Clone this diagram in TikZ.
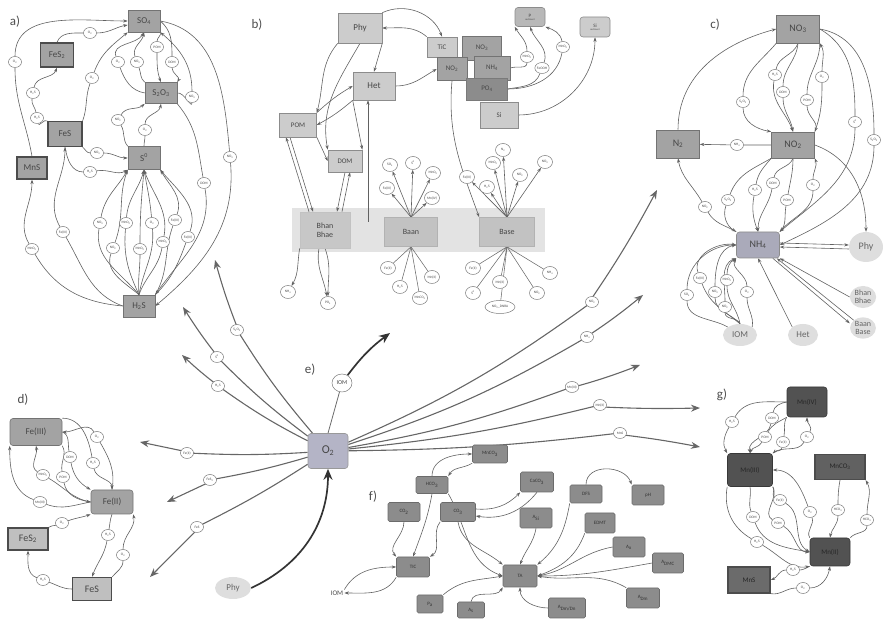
\documentclass[tikz,border=0pt]{standalone}
\usepackage{fontspec}
\setmainfont{Carlito}
\usetikzlibrary{shapes.geometric,arrows.meta}
\newcommand{\lsub}[1]{\textsubscript{#1}}
\newcommand{\lsup}[1]{\textsuperscript{#1}}
\definecolor{oxcol}{RGB}{180,180,198}
\definecolor{nhcol}{RGB}{170,170,186}
\pgfdeclarelayer{bbg}
\pgfdeclarelayer{bg}
\pgfsetlayers{bbg,bg,main}
\begin{document}
\begin{tikzpicture}[x=1pt,y=1pt,
 bx/.style={rectangle, draw=black!45, line width=0.6pt, fill=black!20, inner sep=1pt, text=black!72, font=\fontsize{9}{9}\selectfont, align=center},
 sz/.style 2 args={minimum width=#1pt, minimum height=#2pt},
 dk/.style={fill=black!36, draw=black!55},
 dbl/.style={draw=black!70, line width=1.3pt},
 rnd/.style={rounded corners=3pt},
 sm/.style={ellipse, draw=black!52, fill=white, line width=0.5pt, inner sep=0pt, minimum width=13pt, minimum height=11pt, font=\fontsize{3.5}{3.7}\selectfont, text=black!72},
 smb/.style={sm, minimum width=15pt, minimum height=13pt},
 blob/.style={ellipse, fill=black!13, inner sep=1pt, text=black!60, font=\fontsize{9}{9}\selectfont, align=center},
 ar/.style={-{Stealth[length=4.5pt,width=3.2pt]}, draw=black!62, line width=0.6pt},
 ln/.style={draw=black!58, line width=0.55pt},
 ar2/.style={-{Stealth[length=9pt,width=7pt]}, draw=black!60, line width=1.1pt},
 ar3/.style={-{Stealth[length=11pt,width=9pt]}, draw=black!80, line width=1.7pt},
 lbl/.style={font=\fontsize{13}{13}\selectfont, text=black!70},
 fb/.style={bx, fill=black!45, draw=black!58, font=\fontsize{5}{5}\selectfont, text=black!80, rounded corners=1.5pt},
 gb/.style={bx, fill=black!68, draw=black!78, font=\fontsize{7}{7}\selectfont, text=black!85, rounded corners=3pt}
]
\useasboundingbox (0,0) rectangle (883,620);

%%%%%%%%%%%%%%%% panel a
\node[lbl] at (15,598) {a)};
\node[bx,dk,sz={32}{22}] (SO4) at (144,599) {SO\lsub{4}};
\node[bx,dk,dbl,sz={33}{24}] (FeS2) at (57,565) {FeS\lsub{2}};
\node[bx,dk,sz={32}{21}] (S2O3) at (161,527) {S\lsub{2}O\lsub{3}};
\node[bx,dk,dbl,sz={34}{25}] (FeS) at (65,486) {FeS};
\node[bx,dk,sz={32}{23}] (S0) at (144,462) {S\lsup{0}};
\node[bx,dk,dbl,sz={30}{22}] (MnS) at (32,452) {MnS};
\node[bx,dk,sz={32}{22}] (H2Sa) at (139,314) {H\lsub{2}S};
\node[sm] (a1) at (15,558) {O\lsub{2}};
\node[sm] (a2) at (90,587) {O\lsub{2}};
\node[sm] (a3) at (92,542) {O\lsub{2}};
\node[sm] (a4) at (118,558) {O\lsub{2}};
\node[sm] (a5) at (137,558) {NO\lsub{3}};
\node[sm] (a6) at (157,573) {POM};
\node[sm] (a7) at (172,558) {DOM};
\node[sm] (a8) at (192,523) {NO\lsub{3}};
\node[sm] (a9) at (118,500) {NO\lsub{2}};
\node[sm] (a10) at (145,490) {O\lsub{2}};
\node[sm] (a11) at (33,527) {H\lsub{2}S};
\node[sm] (a12) at (37,502) {H\lsub{2}S};
\node[sm] (a13) at (97,467) {NO\lsub{3}};
\node[sm] (a14) at (230,463) {NO\lsub{3}};
\node[sm] (a15) at (90,448) {H\lsub{2}S};
\node[sm] (a16) at (100,397) {NO\lsub{3}};
\node[sm] (a17) at (126,397) {MnO\lsub{2}};
\node[sm] (a18) at (152,397) {O\lsub{2}};
\node[sm] (a19) at (175,400) {Fe(III)};
\node[sm] (a20) at (113,372) {NO\lsub{2}};
\node[sm] (a21) at (140,371) {MnO\lsub{2}};
\node[sm] (a22) at (163,378) {MnO\lsub{2}};
\node[sm] (a23) at (188,383) {Fe(III)};
\node[sm] (a24) at (32,371) {MnO\lsub{2}};
\node[sm] (a25) at (63,388) {Fe(III)};
\node[sm] (a26) at (204,437) {DOM};

%%%%%%%%%%%%%%%% panel b
\node[lbl] at (257,595) {b)};
\node[bx,sz={44}{30}] (Phy) at (360,592) {Phy};
\node[bx,sz={42}{28}] (Het) at (374,534) {Het};
\node[bx,sz={37}{24},font=\fontsize{7}{7}\selectfont] (POM) at (298,495) {POM};
\node[bx,sz={34}{22},font=\fontsize{7}{7}\selectfont] (DOM) at (345,459) {DOM};
\node[bx,fill=black!22,draw=black!24,sz={50}{36},font=\fontsize{8}{9}\selectfont] (Bhan) at (325,390) {Bhan\\Bhae};
\node[bx,fill=black!24,draw=black!30,sz={53}{29},font=\fontsize{8}{8}\selectfont] (Baan) at (411,388) {Baan};
\node[bx,fill=black!24,draw=black!30,sz={55}{29},font=\fontsize{8}{8}\selectfont] (Base) at (507,388) {Base};
\node[bx,sz={30}{20},font=\fontsize{7}{7}\selectfont] (TiC) at (442,573) {TiC};
\node[bx,dk,sz={39}{24},font=\fontsize{7}{7}\selectfont] (NO3b) at (482,572) {NO\lsub{3}};
\node[bx,dk,sz={30}{23},font=\fontsize{7}{7}\selectfont] (NO2b) at (452,551) {NO\lsub{2}};
\node[bx,dk,sz={36}{24},font=\fontsize{7}{7}\selectfont] (NH4b) at (492,552) {NH\lsub{4}};
\node[bx,fill=black!45,draw=black!52,sz={41}{22},font=\fontsize{7}{7}\selectfont] (PO4b) at (487,531) {PO\lsub{4}};
\node[bx,sz={38}{26},font=\fontsize{7}{7}\selectfont] (Sib) at (499,505) {Si};
\node[bx,fill=black!28,rnd,sz={30}{19},font=\fontsize{5}{4}\selectfont] (Psed) at (530,603) {P\\[-1pt]{\fontsize{2.5}{3}\selectfont sediment}};
\node[bx,fill=black!20,rnd,sz={30}{20},font=\fontsize{5}{4}\selectfont] (Sised) at (595,593) {Si\\[-1pt]{\fontsize{2.5}{3}\selectfont sediment}};
\node[sm] (b1) at (527,563) {MnO\lsub{2}};
\node[sm] (b2) at (542,552) {FeOOH};
\node[sm] (b3) at (563,573) {MnO\lsub{2}};
\node[smb] (ba1) at (390,455) {SO\lsub{4}};
\node[smb] (ba2) at (413,457) {S\lsup{0}};
\node[smb] (ba3) at (433,447) {MnO\lsub{2}};
\node[smb] (ba4) at (387,432) {Fe(III)};
\node[smb] (ba5) at (432,422) {Mn(IV)};
\node[smb] (ba6) at (388,352) {Fe(II)};
\node[smb] (ba7) at (400,333) {H\lsub{2}S};
\node[smb] (ba8) at (432,343) {Mn(II)};
\node[smb] (ba9) at (420,322) {MnCO\lsub{3}};
\node[smb] (be1) at (503,470) {N\lsub{2}};
\node[smb] (be2) at (493,457) {MnO\lsub{2}};
\node[smb] (be3) at (545,458) {NO\lsub{3}};
\node[smb] (be4) at (467,443) {Fe(III)};
\node[smb] (be5) at (487,433) {H\lsub{2}S};
\node[smb] (be6) at (520,445) {NO\lsub{2}};
\node[smb] (be7) at (473,352) {Fe(II)};
\node[smb] (be8) at (500,338) {Mn(II)};
\node[smb] (be9) at (473,327) {S\lsup{0}};
\node[smb] (be10) at (550,347) {NH\lsub{4}};
\node[smb] (be11) at (537,327) {NO\lsub{2}};
\node[smb,minimum width=30pt] (be12) at (500,313) {NO\lsub{3}\_DNRA};
\node[smb] (bh1) at (288,328) {NH\lsub{4}};
\node[smb] (bh2) at (328,317) {PO\lsub{4}};
\coordinate (bc) at (368,398);

%%%%%%%%%%%%%%%% panel c
\node[lbl] at (715,595) {c)};
\node[bx,dk,sz={43}{28},font=\fontsize{10}{10}\selectfont] (NO3c) at (798,591) {NO\lsub{3}};
\node[bx,dk,sz={43}{26},font=\fontsize{10}{10}\selectfont] (NO2c) at (793,475) {NO\lsub{2}};
\node[bx,dk,sz={43}{28},font=\fontsize{10}{10}\selectfont] (N2c) at (678,476) {N\lsub{2}};
\node[bx,fill=nhcol,draw=black!45,rnd,sz={43}{26},font=\fontsize{10}{10}\selectfont] (NH4c) at (758,375) {NH\lsub{4}};
\node[blob,minimum width=34pt,minimum height=30pt,font=\fontsize{10}{10}\selectfont] (Phyc) at (866,373) {Phy};
\node[blob,font=\fontsize{8}{8}\selectfont] (Bhanc) at (863,323) {Bhan\\Bhae};
\node[blob,font=\fontsize{8}{8}\selectfont] (Baanc) at (863,292) {Baan\\Base};
\node[blob,minimum width=34pt,minimum height=22pt] (IOMc) at (740,285) {IOM};
\node[blob,minimum width=30pt,minimum height=22pt] (Hetc) at (803,285) {Het};
\node[sm] (c1) at (743,518) {S\lsub{2}O\lsub{3}};
\node[sm] (c2) at (775,545) {H\lsub{2}S};
\node[sm] (c3) at (783,528) {DOM};
\node[sm] (c4) at (807,520) {POM};
\node[sm] (c5) at (822,543) {O\lsub{2}};
\node[sm] (c6) at (855,498) {S\lsup{0}};
\node[sm] (c7) at (874,480) {S\lsub{2}O\lsub{3}};
\node[sm] (c8) at (737,475) {NH\lsub{4}};
\node[sm] (c9) at (705,413) {NO\lsub{2}};
\node[sm] (c10) at (728,420) {S\lsub{2}O\lsub{3}};
\node[sm] (c11) at (755,430) {H\lsub{2}S};
\node[sm] (c12) at (773,437) {DOM};
\node[sm] (c13) at (787,420) {POM};
\node[sm] (c14) at (813,435) {O\lsub{2}};
\node[sm] (c15) at (700,342) {Fe(III)};
\node[sm] (c16) at (727,340) {MnO\lsub{2}};
\node[sm] (c17) at (687,325) {SO\lsub{4}};
\node[sm] (c18) at (715,328) {NO\lsub{3}};
\node[sm] (c19) at (725,313) {NO\lsub{2}};
\node[sm] (c20) at (747,328) {O\lsub{2}};

%%%%%%%%%%%%%%%% panel d
\node[lbl] at (23,220) {d)};
\node[bx,dk,rnd,sz={52}{27}] (FeIII) at (36,188) {Fe(III)};
\node[bx,dk,rnd,sz={42}{24}] (FeII) at (112,118) {Fe(II)};
\node[bx,fill=black!25,dbl,sz={40}{22},font=\fontsize{10}{10}\selectfont] (FeS2d) at (28,81) {FeS\lsub{2}};
\node[bx,fill=black!25,dbl,sz={39}{23},font=\fontsize{10}{10}\selectfont] (FeSd) at (92,31) {FeS};
\node[sm] (d1) at (97,183) {O\lsub{2}};
\node[sm] (d2) at (70,163) {DOM};
\node[sm] (d3) at (93,157) {H\lsub{2}S};
\node[sm] (d4) at (43,145) {MnO\lsub{2}};
\node[sm] (d5) at (63,143) {POM};
\node[sm] (d6) at (40,118) {Mn(III)};
\node[sm] (d7) at (62,97) {O\lsub{2}};
\node[sm] (d8) at (108,85) {H\lsub{2}S};
\node[sm] (d9) at (123,65) {O\lsub{2}};
\node[sm] (d10) at (43,40) {H\lsub{2}S};

%%%%%%%%%%%%%%%% panel e
\node[lbl] at (310,250) {e)};
\node[bx,fill=oxcol,draw=black!40,rnd,sz={40}{35},font=\fontsize{12}{12}\selectfont] (O2e) at (328,169) {O\lsub{2}};
\node[sm,minimum width=20pt,minimum height=18pt,font=\fontsize{6}{6}\selectfont] (IOMe) at (342,237) {IOM};
\node[blob,minimum width=36pt,minimum height=22pt] (Phye) at (233,32) {Phy};
\node[sm] (e1) at (237,290) {S\lsub{2}O\lsub{3}};
\node[sm] (e2) at (217,263) {S\lsup{0}};
\node[sm] (e3) at (218,234) {H\lsub{2}S};
\node[sm] (e4) at (187,167) {Fe(II)};
\node[sm] (e5) at (210,140) {FeS\lsub{2}};
\node[sm] (e6) at (197,93) {FeS};
\node[sm] (e7) at (592,318) {NO\lsub{2}};
\node[sm] (e8) at (587,283) {NH\lsub{4}};
\node[sm] (e9) at (572,233) {Mn(III)};
\node[sm] (e10) at (600,215) {Mn(II)};
\node[sm] (e11) at (620,187) {MnS};
\coordinate (h1) at (215,360);
\coordinate (h2) at (183,313);
\coordinate (h3) at (182,265);
\coordinate (h4) at (140,178);
\coordinate (h5) at (167,118);
\coordinate (h6) at (150,43);
\coordinate (h7) at (657,430);
\coordinate (h8) at (643,325);
\coordinate (h9) at (640,255);
\coordinate (h10) at (700,212);
\coordinate (h11) at (700,173);
\coordinate (hI) at (390,287);

%%%%%%%%%%%%%%%% panel f
\node[lbl] at (373,123) {f)};
\node[fb,sz={35}{18}] (MnCO3f) at (490,166) {MnCO\lsub{3}};
\node[fb,sz={32}{17}] (HCO3f) at (432,135) {HCO\lsub{3}};
\node[fb,sz={33}{20}] (CaCO3f) at (537,138) {CaCO\lsub{3}};
\node[fb,sz={32}{19}] (CO2f) at (404,108) {CO\lsub{2}};
\node[fb,sz={35}{19}] (CO3f) at (458,108) {CO\lsub{3}};
\node[fb,sz={32}{20}] (ASi) at (536,102) {A\lsub{Si}};
\node[fb,sz={32}{18}] (DFS) at (586,126) {DFS};
\node[fb,sz={32}{20}] (pH) at (648,125) {pH};
\node[fb,sz={30}{20}] (EDMT) at (600,97) {EDMT};
\node[fb,sz={32}{20}] (Ax) at (629,73) {A\lsub{x}};
\node[fb,sz={31}{20}] (ADMC) at (668,57) {A\lsub{DMC}};
\node[fb,sz={33}{20}] (ADm) at (643,22) {A\lsub{Dm}};
\node[fb,sz={37}{20}] (ADmDn) at (567,12) {A\lsub{Dm/Dn}};
\node[fb,sz={27}{16}] (As) at (471,10) {A\lsub{s}};
\node[fb,sz={26}{18}] (Pa) at (430,16) {P\lsub{a}};
\node[fb,sz={33}{20}] (TIC) at (413,53) {TIC};
\node[fb,sz={34}{22}] (TA) at (520,44) {TA};
\node[font=\fontsize{7}{7}\selectfont, text=black!70, inner sep=1pt] (IOMf) at (337,27) {IOM};

%%%%%%%%%%%%%%%% panel g
\node[lbl] at (722,225) {g)};
\node[gb,sz={40}{30}] (MnIV) at (807,218) {Mn(IV)};
\node[gb,sz={45}{33}] (MnIII) at (750,150) {Mn(III)};
\node[gb,rounded corners=0pt,dbl,fill=black!62,sz={50}{25}] (MnCO3g) at (840,153) {MnCO\lsub{3}};
\node[gb,sz={40}{28}] (MnII) at (830,68) {Mn(II)};
\node[gb,rounded corners=0pt,dbl,fill=black!58,sz={42}{26}] (MnSg) at (749,40) {MnS};
\node[sm] (g1) at (732,198) {H\lsub{2}S};
\node[sm] (g2) at (772,202) {DOM};
\node[sm] (g3) at (765,183) {POM};
\node[sm] (g4) at (783,178) {Fe(II)};
\node[sm] (g5) at (807,183) {O\lsub{2}};
\node[sm] (g6) at (780,120) {Fe(II)};
\node[sm] (g7) at (810,108) {O\lsub{2}};
\node[sm] (g8) at (753,103) {DOM};
\node[sm] (g9) at (778,97) {POM};
\node[sm] (g10) at (757,78) {H\lsub{2}S};
\node[sm] (g11) at (838,110) {HCO\lsub{3}};
\node[sm] (g12) at (867,100) {HCO\lsub{3}};
\node[sm] (g13) at (793,50) {H\lsub{2}S};
\node[sm] (g14) at (803,32) {O\lsub{2}};

\begin{pgfonlayer}{bbg}
\fill[black!11] (292,368) rectangle (545,412);
\end{pgfonlayer}

\begin{pgfonlayer}{bg}
% ---- a
\draw[ar] (MnS.north) to[out=100,in=-90] (a1) to[out=90,in=180] (SO4.west);
\draw[ar] (FeS2.north) to[out=70,in=180] (a2) to[out=0,in=190] ([yshift=-4pt]SO4.west);
\draw[ar] (FeS.north east) to[out=70,in=-110] (a3) to[out=70,in=-140] (SO4.south west);
\draw[ar] (S2O3.west) to[out=170,in=-70] (a4) to[out=110,in=-120] (SO4.south);
\draw[ar] (S2O3.north west) to[out=140,in=-70] (a5) to[out=110,in=-100] (SO4.south);
\draw[ar] (SO4.south east) to[out=-70,in=90] (a6) to[out=-90,in=110] (S2O3.north);
\draw[ar] (SO4.east) to[out=-40,in=90] (a7) to[out=-90,in=60] (S2O3.north east);
\draw[ar] (S2O3.east) to[out=10,in=-90] (a8) to[out=90,in=-40] (SO4.south east);
\draw[ar] (S0.north west) to[out=130,in=-60] (a9) to[out=60,in=-140] (S2O3.south west);
\draw[ar] (S0.north) to[out=90,in=-90] (a10) to[out=90,in=-100] (S2O3.south);
\draw[ar] (FeS.north west) to[out=140,in=-80] (a12) to[out=100,in=-100] (a11) to[out=80,in=-110] (FeS2.south);
\draw[ar] (FeS.south east) to[out=-40,in=180] (a13) to[out=0,in=180] (S0.west);
\draw[ar] (FeS.south) to[out=-80,in=180] (a15) to[out=10,in=-150] (S0.south west);
\draw[ar] (H2Sa.north) to[out=130,in=-100] (a16) to[out=80,in=-120] (S0.south west);
\draw[ar] (H2Sa.north) to[out=115,in=-95] (a17) to[out=85,in=-105] (S0.south);
\draw[ar] (H2Sa.north) to[out=80,in=-85] (a18) to[out=95,in=-80] (S0.south);
\draw[ar] (H2Sa.north east) to[out=60,in=-110] (a19) to[out=70,in=-60] (S0.south east);
\draw[ar] (H2Sa.north) to[out=140,in=-110] (a20) to[out=70,in=-110] (S0.south west);
\draw[ar] (H2Sa.north) to[out=95,in=-90] (a21) to[out=90,in=-95] (S0.south);
\draw[ar] (H2Sa.north) to[out=70,in=-100] (a22) to[out=80,in=-70] (S0.south);
\draw[ar] (H2Sa.north east) to[out=45,in=-110] (a23) to[out=70,in=-50] (S0.south east);
\draw[ar] (H2Sa.west) to[out=175,in=-60] (a24) to[out=120,in=-90] (MnS.south);
\draw[ar] (H2Sa.west) to[out=160,in=-60] (a25) to[out=120,in=-90] (FeS.south);
\draw[ar] (S2O3.south east) to[out=-50,in=100] (a26) to[out=-80,in=55] (H2Sa.north east);
\draw[ar] (SO4.east) to[out=-10,in=95] (a14) to[out=-85,in=40] (H2Sa.east);
% ---- b
\draw[ar] (Phy.north east) to[out=25,in=110] (TiC.north);
\draw[ar] (TiC.north west) to[out=140,in=0] (Phy.east);
\draw[ar] (Phy.south east) -- (Het.north);
\draw[ar] (Phy.south west) to[out=-130,in=75] (POM.north east);
\draw[ar] (Phy.south) to[out=-120,in=100] (DOM.north west);
\draw[ar] (Het.east) to[out=0,in=-150] (NO2b.west);
\draw[ar] (POM.north east) to[bend left=6] (Het.west);
\draw[ar] (Het.south west) to[bend left=6] (POM.east);
\draw[ar] (Het.south west) -- (DOM.north east);
\draw[ar] (POM.south east) -- (DOM.west);
\draw[ar] ([xshift=-8pt]POM.south) -- ([xshift=-12pt]Bhan.north);
\draw[ar] ([xshift=-16pt]Bhan.north) -- ([xshift=-12pt]POM.south);
\draw[ar] (DOM.south) -- ([xshift=12pt]Bhan.north);
\draw[ar] ([xshift=17pt]Bhan.north) -- ([xshift=5pt]DOM.south);
\draw[ar] (bc) -- (bc |- Het.south);
\draw[ar] (NO2b.south) to[out=-95,in=110] (Base.north west);
\draw[ar] (Bhan.south west) to[out=-100,in=60] (bh1);
\draw[ar] (Bhan.south) to[out=-70,in=90] (bh2);
\draw[ar] ([xshift=-6pt]Bhan.south) to[out=-100,in=100] (bh2);
\foreach \n in {ba1,ba2,ba3,ba4,ba5} \draw[ar] (Baan.north) -- (\n);
\foreach \n in {ba6,ba7,ba8,ba9} \draw[ln] (Baan.south) -- (\n);
\foreach \n in {be1,be2,be3,be4,be5,be6} \draw[ar] (Base.north) -- (\n);
\foreach \n in {be7,be8,be9,be10,be11,be12} \draw[ln] (Base.south) -- (\n);
\draw[ar] (Sib.east) to[out=0,in=-90] (Sised.south);
\draw[ar] (NH4b.east) to[out=20,in=-90] (b1) to[out=90,in=-60] (Psed.south west);
\draw[ar] (PO4b.east) to[out=10,in=-110] (b2) to[out=70,in=-70] (Psed.south);
\draw[ar] (PO4b.east) to[out=0,in=-100] (b3) to[out=100,in=-20] (Psed.south east);
% ---- c
\draw[ar] (N2c.north) to[out=90,in=195] (NO3c.west);
\draw[ar] (NO2c) -- (c8) -- (N2c);
\draw[ar] (NO3c.south west) to[out=-130,in=90] (c1) to[out=-90,in=170] (NO2c.north west);
\draw[ar] (NO3c.south) to[out=-110,in=80] (c2) to[out=-100,in=110] (NO2c.north);
\draw[ar] (NO3c.south) to[out=-95,in=90] (c3) to[out=-90,in=100] (NO2c.north);
\draw[ar] (NO3c.south east) to[out=-90,in=90] (c4) to[out=-90,in=70] (NO2c.north east);
\draw[ar] (NO2c.north east) to[out=70,in=-90] (c5) to[out=90,in=-60] (NO3c.south east);
\draw[ar] (NO3c.east) to[out=-30,in=90] (c6) to[out=-90,in=40] (NH4c.north east);
\draw[ar] (NO3c.east) to[out=-10,in=90] (c7) to[out=-90,in=25] (NH4c.east);
\draw[ar] (NO2c.east) to[out=-20,in=90] (Phyc.north);
\draw[ar] (NH4c.north west) to[out=150,in=-60] (c9) to[out=120,in=-80] (N2c.south);
\draw[ar] (NO2c.south west) to[out=-150,in=70] (c10) to[out=-110,in=150] (NH4c.north west);
\draw[ar] (NO2c.south west) to[out=-130,in=80] (c11) to[out=-100,in=110] (NH4c.north);
\draw[ar] (NO2c.south) to[out=-110,in=80] (c12) to[out=-100,in=90] (NH4c.north);
\draw[ar] (NO2c.south) to[out=-90,in=80] (c13) to[out=-100,in=50] (NH4c.north east);
\draw[ar] (NH4c.north east) to[out=50,in=-90] (c14) to[out=90,in=-70] (NO2c.south east);
\draw[ar] ([yshift=2pt]NH4c.east) -- ([yshift=2pt]Phyc.west);
\draw[ar] ([yshift=-2pt]Phyc.west) -- ([yshift=-2pt]NH4c.east);
\draw[ar] (Bhanc.west) -- (NH4c.south east);
\draw[ar] (Baanc.north west) -- ([xshift=-3pt]NH4c.south east);
\draw[ar] ([xshift=-7pt]NH4c.south east) -- ([xshift=-4pt,yshift=-3pt]Baanc.north west);
\draw[ar] (Hetc.north west) -- (NH4c.south);
\draw[ar] (IOMc.north west) to[out=150,in=-90] (c17) to[out=90,in=180] (NH4c.west);
\draw[ar] (IOMc.north) to[out=140,in=-70] (c15) to[out=110,in=170] (NH4c.west);
\draw[ar] (IOMc.north) to[out=130,in=-90] (c18) to[out=90,in=190] (NH4c.west);
\draw[ar] (IOMc.north) to[out=110,in=-90] (c19) to[out=90,in=-160] (NH4c.south west);
\draw[ar] (IOMc.north) to[out=100,in=-90] (c16) to[out=90,in=-150] (NH4c.south west);
\draw[ar] (IOMc.north east) to[out=80,in=-90] (c20) to[out=90,in=-120] (NH4c.south west);
% ---- d
\draw[ar] (FeII.north) to[out=80,in=-60] (d1) to[out=120,in=0] (FeIII.east);
\draw[ar] (FeIII.east) to[out=-20,in=100] (d2) to[out=-80,in=150] (FeII.north west);
\draw[ar] (FeIII.north east) to[out=0,in=100] (d3) to[out=-80,in=90] (FeII.north);
\draw[ar] (FeIII.south east) to[out=-60,in=100] (d5) to[out=-80,in=170] (FeII.west);
\draw[ar] (FeII.west) to[out=170,in=-30] (d4) to[out=150,in=-80] (FeIII.south);
\draw[ar] (FeII.west) to[out=190,in=-20] (d6) to[out=160,in=-90] (FeIII.south west);
\draw[ar] (FeS2d.north east) to[out=45,in=200] (d7) to[out=20,in=200] (FeII.south west);
\draw[ar] (FeII.south) to[out=-110,in=80] (d8) to[out=-100,in=70] (FeSd.north);
\draw[ar] (FeSd.north east) to[out=50,in=-90] (d9) to[out=90,in=-80] (FeII.south east);
\draw[ar] (FeSd.west) to[out=180,in=-20] (d10) to[out=160,in=-90] (FeS2d.south);
% ---- e
\draw[ar2] (O2e) to[bend left=4] (e1) to[bend left=3] (h1);
\draw[ar2] (O2e) to[bend left=4] (e2) to[bend left=3] (h2);
\draw[ar2] (O2e) to[bend left=4] (e3) to[bend left=3] (h3);
\draw[ar2] (O2e) to[bend left=3] (e4) -- (h4);
\draw[ar2] (O2e) to[bend left=3] (e5) -- (h5);
\draw[ar2] (O2e) to[bend left=3] (e6) -- (h6);
\draw[ar2] (O2e) to[bend right=6] (e7) to[bend right=3] (h7);
\draw[ar2] (O2e) to[bend right=6] (e8) to[bend right=3] (h8);
\draw[ar2] (O2e) to[bend right=5] (e9) to[bend right=3] (h9);
\draw[ar2] (O2e) to[bend right=4] (e10) to[bend right=2] (h10);
\draw[ar2] (O2e) to[bend right=3] (e11) to[bend left=2] (h11);
\draw[ln,line width=0.8pt] (O2e.north) -- (IOMe);
\draw[ar3] (IOMe) to[bend left=8] (hI);
\draw[ar3] (Phye.east) to[out=25,in=-90] (O2e.south);
% ---- f
\draw[ar] (HCO3f.north) to[out=90,in=180] (MnCO3f.west);
\draw[ar] (MnCO3f.south west) to[out=-150,in=60] (HCO3f.north east);
\draw[ar] ([yshift=3pt]CO3f.east) to[bend right=25] (CaCO3f.south west);
\draw[ar] (CaCO3f.south) to[bend left=30] ([yshift=-4pt]CO3f.east);
\draw[ar] (DFS.north) to[out=90,in=110,looseness=1.2] (pH.north west);
\draw[ar] (CO2f.south) to[out=-90,in=130] (TIC.north west);
\draw[ar] (HCO3f.south) to[out=-100,in=70] (TIC.north);
\draw[ar] (CO3f.south west) to[out=-130,in=30] (TIC.north east);
\draw[ar] (HCO3f.south east) to[out=-60,in=160] (TA.west);
\draw[ar] (CO3f.south) to[out=-80,in=140] (TA.north west);
\draw[ar] (ASi.south) to[out=-100,in=70] (TA.north);
\draw[ar] (DFS.south west) to[out=-100,in=40] (TA.north east);
\draw[ar] (EDMT.south west) to[out=-110,in=20] (TA.east);
\draw[ar] (Ax.west) to[out=190,in=10] (TA.east);
\draw[ar] (ADMC.west) to[out=190,in=0] (TA.east);
\draw[ar] (ADm.north west) to[out=150,in=-10] (TA.east);
\draw[ar] (ADmDn.west) to[out=180,in=-90] (TA.south);
\draw[ar] (As.north) to[out=80,in=-120] (TA.south west);
\draw[ar] (Pa.north east) to[out=40,in=190] (TA.west);
\draw[ar] (IOMf.north east) to[out=60,in=180] (TIC.west);
\draw[ar] (TIC.south west) to[out=-120,in=0] (IOMf.east);
% ---- g
\draw[ar] (MnIII.north east) to[out=40,in=-120] (g5) to[out=60,in=-90] (MnIV.south);
\draw[ar] (MnIV.west) to[out=180,in=60] (g1) to[out=-120,in=120] (MnIII.north west);
\draw[ar] (MnIV.west) to[out=-170,in=80] (g2) to[out=-100,in=100] (MnIII.north);
\draw[ar] (MnIV.south west) to[out=-150,in=60] (g3) to[out=-120,in=70] (MnIII.north);
\draw[ar] (MnIV.south west) to[out=-120,in=80] (g4) to[out=-100,in=40] (MnIII.north east);
\draw[ar] (MnII.north west) to[out=120,in=-70] (g7) to[out=110,in=0] (MnIII.east);
\draw[ar] (MnIII.south east) to[out=-40,in=150] (g6) to[out=-30,in=150] (MnII.west);
\draw[ar] (MnIII.south) to[out=-80,in=110] (g8) to[out=-70,in=170] (MnII.west);
\draw[ar] (MnIII.south east) to[out=-60,in=150] (g9) to[out=-30,in=180] (MnII.west);
\draw[ar] (MnIII.south west) to[out=-100,in=150] (g10) to[out=-30,in=190] (MnII.south west);
\draw[ar] (MnCO3g.south) to[out=-100,in=90] (g11) to[out=-90,in=80] (MnII.north);
\draw[ar] (MnII.north east) to[out=50,in=-90] (g12) to[out=90,in=-60] (MnCO3g.south east);
\draw[ar] (MnII.south west) to[out=-160,in=0] (g13) to[out=180,in=20] (MnSg.east);
\draw[ar] (MnSg.south east) to[out=-10,in=180] (g14) to[out=0,in=-100] (MnII.south);
\end{pgfonlayer}
\end{tikzpicture}
\end{document}
